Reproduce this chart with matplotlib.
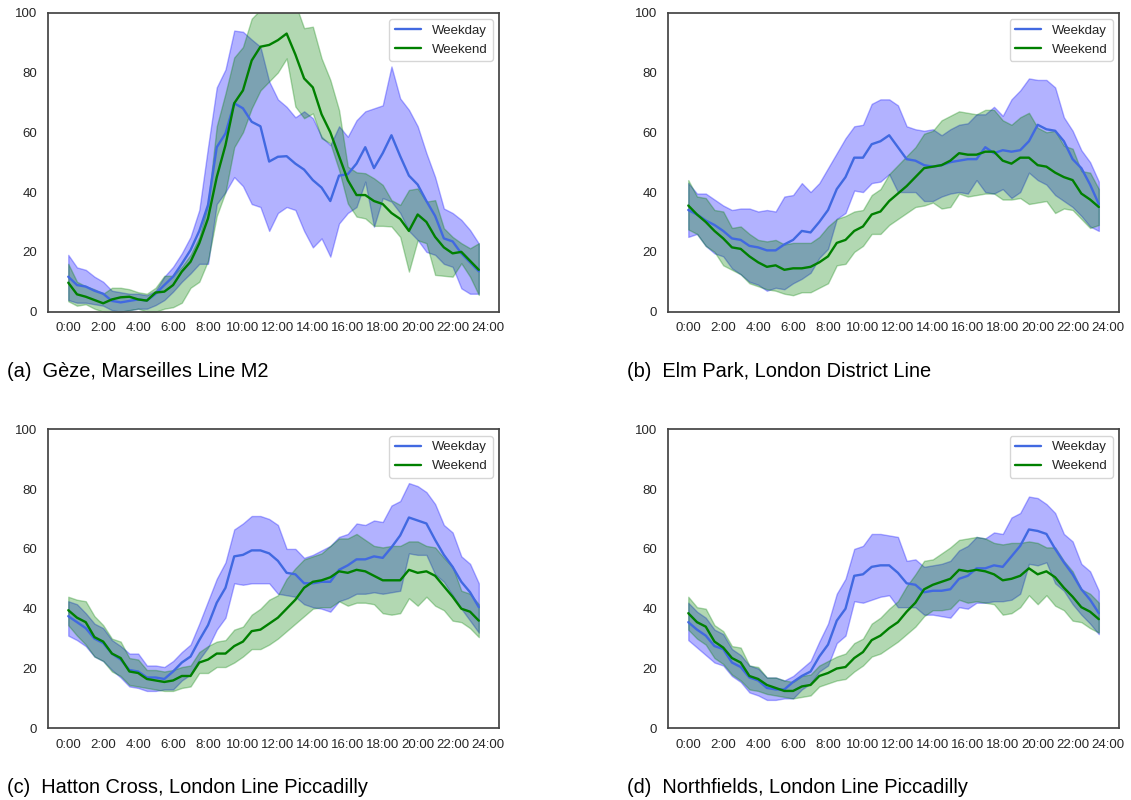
import matplotlib
matplotlib.use("Agg")
import matplotlib.pyplot as plt
import seaborn as sns
import numpy as np

sns.set_style("white")
plt.rcParams['font.family'] = ['Liberation Sans', 'DejaVu Sans']

# half-hour slots 0:00 .. 23:30
slots = np.arange(48)
tick_pos = list(range(0, 49, 4))
tick_labels = ["%d:00" % h for h in range(0, 25, 2)]
series_labels = ["Weekday", "Weekend"]

captions = [
    "(a)  Gèze, Marseilles Line M2",
    "(b)  Elm Park, London District Line",
    "(c)  Hatton Cross, London Line Piccadilly",
    "(d)  Northfields, London Line Piccadilly",
]

# (a) Geze
a_wd_mean = [11.7, 8.9, 8.4, 7, 6, 3.6, 3.1, 3.6, 4.1, 3.7, 6, 8.9, 11.7, 16, 20.6, 27, 35.7, 55, 59.6, 69.7, 68, 63.5, 62, 50.2,
             51.8, 52, 49.5, 47.5, 44, 41.5, 37, 45.5, 46, 49.5, 55, 48, 53, 59, 52, 45.5, 42.5, 37, 32, 24.5, 23.5, 19.5, 16.5, 13.5]
a_wd_hi = [19, 14.8, 14, 11.7, 10, 7, 6.5, 6, 6, 5.5, 7, 11.7, 15, 19.5, 25, 34, 55, 75, 81, 94, 93.6, 91, 88.6, 77,
           71, 68.5, 65, 67, 64.7, 58.5, 55.7, 62, 58.5, 64, 67, 68, 69, 82, 71.3, 67.5, 62, 53, 45, 34.5, 33, 30.7, 27.3, 22.8]
a_wd_lo = [3.9, 3, 3, 2.5, 2, 0.5, 0, 0.5, 1, 1, 2.2, 3.9, 6.7, 10, 12.8, 16, 16, 36, 40, 45, 42, 36, 35, 27,
           33, 35, 34, 27, 21.5, 24.5, 18.4, 29.5, 33, 35, 43.5, 28.4, 38, 36.8, 33, 27, 24, 20, 19, 16, 15, 7.8, 6, 6]
a_we_mean = [9.7, 5.8, 5, 3.9, 2.8, 4.1, 4.8, 5, 4.1, 3.7, 6.4, 6.7, 8.9, 13.4, 16.7, 22.9, 31.2, 45, 55.7, 69.7, 74, 84, 88.6, 89.2,
             90.8, 93, 86, 78, 75, 66, 60, 52, 44, 39, 39, 37, 36, 33, 31, 27, 32.5, 30, 25, 21.5, 19.5, 20, 17, 14]
a_we_hi = [16, 10, 8.5, 7.5, 6, 8, 8, 7.5, 6.5, 6, 8, 12, 12, 15, 19, 25, 36, 62, 73, 85, 88.5, 98, 101, 103,
           103, 103, 103, 94.8, 95.3, 84.7, 77.5, 67.4, 48.5, 46.6, 46.3, 44.6, 42.4, 37.3, 35.7, 40.7, 41.2, 36.8, 37.3, 27.9, 25, 22.9, 21.2, 22.9]
a_we_lo = [3.5, 2, 2.5, 1, 0, -0.5, 0, 0.5, 1, 0, 0, 1, 1.5, 3, 8, 10, 17, 32, 40, 55, 60, 68, 74, 77,
           80, 84.7, 68.6, 64.7, 66.3, 58, 56.3, 47.4, 36.2, 31.8, 31.2, 28.7, 28.7, 28.5, 25, 13.4, 23.9, 22.9, 12.3, 12, 11.7, 16.2, 11.7, 5.6]

# (b) Elm Park
b_wd_mean = [34, 32.5, 30.5, 29, 27, 24.5, 24, 22, 21.5, 20.5, 20.5, 22.5, 24, 27, 26.5, 30, 34, 41, 45, 51.5, 51.5, 56, 57, 59,
             55, 51, 50.5, 49, 48.5, 49, 50, 50.5, 51, 51, 55, 53, 54, 53.5, 54, 57, 62.5, 61, 60.5, 57, 51, 48, 42.5, 36]
b_wd_hi = [43, 39.5, 39.5, 37.5, 35.5, 34, 34.5, 34.5, 33.5, 34, 33.5, 38.5, 39, 43, 40, 43, 48, 53, 58, 62, 62.5, 69.5, 71, 71,
           69, 62, 61, 60.5, 61, 59, 61, 62.5, 63, 66, 66, 68.5, 65.5, 71, 74, 78, 77.5, 77.5, 75, 65, 60.5, 54, 50, 43.5]
b_wd_lo = [25, 26, 22, 19.5, 18.5, 14.5, 12.5, 10, 9, 7, 8, 7.5, 9.5, 11, 13, 18, 21, 31, 33, 40.5, 40, 43, 43.5, 46,
           40, 40, 40, 37, 37, 38.5, 39.5, 40, 39.5, 44, 40, 39.5, 41, 38, 40, 46.5, 44, 42.5, 39, 37, 35, 32, 28.5, 27]
b_we_mean = [35.5, 32.5, 30, 27, 24.5, 21.5, 21, 18.5, 16.5, 15, 15.5, 14, 14.5, 14.5, 15, 16.5, 18.5, 23, 24, 27, 28.5, 32.5, 33.5, 37,
             39.5, 42, 45, 48, 48.5, 49, 50.5, 53, 52.5, 52.5, 53.5, 53.5, 50.5, 49.5, 51.5, 51.5, 49, 48.5, 46.5, 45, 44, 39.5, 37.5, 35]
b_we_hi = [44, 38.5, 38, 34, 33.5, 28, 28.5, 26, 24, 23.5, 24, 22.5, 23, 23, 23, 25, 28.5, 31, 32, 33.5, 34, 39, 41, 46,
           49, 52, 55, 59.5, 60.5, 64, 65.5, 67, 66.5, 66, 67.5, 67.5, 64, 62.5, 65, 66.5, 61.5, 60, 60.5, 55.5, 54.5, 47, 46.5, 41]
b_we_lo = [27.5, 26, 22, 20, 15.5, 14, 12.5, 9.5, 8.5, 7.5, 7, 6, 5.5, 6.5, 6.5, 8, 9.5, 15.5, 16, 20, 22, 26, 26, 29,
           31, 33, 35, 35.5, 36.5, 34.5, 35, 39.5, 38.5, 39, 39.5, 39.5, 37.5, 37.5, 38, 36, 36.5, 37, 33, 34.5, 34, 31, 28, 29]

# (c) Hatton Cross
c_wd_mean = [37.5, 35.5, 33.5, 30, 28.5, 25, 23, 19.5, 19, 17, 17, 16.5, 19, 22, 24, 29.5, 34.5, 42, 47, 57.5, 58, 59.5, 59.5, 58.5,
             56, 52, 51.5, 48.5, 48.5, 49, 49, 53, 54.5, 56.5, 56.5, 57.5, 57, 60.5, 64.5, 70.5, 69.5, 68.5, 63, 58, 54, 49, 45.5, 40.5]
c_wd_hi = [42.5, 41.5, 38.5, 35, 33.5, 29.5, 27.5, 25, 25, 21, 21, 20.5, 22.5, 25.5, 28, 35, 42.5, 50, 55.5, 66.5, 68.5, 71, 71, 70,
           68, 60, 60, 57, 58, 59.5, 61, 64, 65, 68.5, 68, 69.5, 69, 74.5, 76, 82, 81, 79, 75, 68, 65.5, 57.5, 55, 48.5]
c_wd_lo = [31, 29.5, 27.5, 24, 22.5, 19.5, 17, 14, 13.5, 12.5, 12.5, 13, 13, 16, 18, 23, 27, 33, 37, 48.5, 48, 48.5, 48.5, 48.5,
           45, 44.5, 44, 41.5, 40.5, 40, 39, 42.5, 43.5, 45, 45, 45.5, 45, 45.5, 46, 58.5, 58, 58, 51.5, 49, 44.5, 40, 36, 32]
c_we_mean = [39.5, 37, 35.5, 30.5, 29, 25, 23.5, 19, 18.5, 16.5, 16, 15.5, 16, 17.5, 17.5, 22, 23, 25, 25, 27.5, 29, 32.5, 33, 35,
             37, 40, 43, 47, 49, 49.5, 50.5, 52.5, 52, 53, 52.5, 51, 49.5, 49.5, 49.5, 53, 52, 52.5, 51, 47.5, 44, 40, 39, 36]
c_we_hi = [44, 43, 42.5, 37.5, 34.5, 30, 29, 23.5, 23, 19.5, 19.5, 19, 19.5, 20.5, 21, 25.5, 27.5, 29, 29.5, 33, 34, 38, 40, 43,
           44.5, 50, 53.5, 56.5, 57.5, 58.5, 61, 63.5, 63.5, 65, 63, 61, 60.5, 61, 61, 62.5, 62.5, 61, 60.5, 57, 54, 46, 45, 41.5]
c_we_lo = [34.5, 31, 28, 24, 22.5, 19, 17.5, 14.5, 14, 13.5, 13, 12.5, 12.5, 13.5, 14, 18.5, 18.5, 20.5, 20.5, 22, 24, 26.5, 26.5, 28,
           30, 32.5, 35, 37.5, 40, 40.5, 40.5, 42.5, 41, 42, 42, 41.5, 38.5, 38, 38.5, 43.5, 41, 44, 41, 39.5, 36, 35.5, 33.5, 30.5]

# (d) Northfields
d_wd_mean = [35.5, 33, 31, 27.5, 26.5, 22, 20.5, 17, 16, 13.5, 13, 13, 15.5, 17.5, 19, 24, 28, 36, 40, 51, 51.5, 54, 54.5, 54.5,
             52, 48.5, 48, 45.5, 46, 46, 46.5, 50, 51, 53.5, 53.5, 54.5, 54, 57.5, 61, 66.5, 66, 65, 60, 55.5, 51.5, 46.5, 43, 38.5]
d_wd_hi = [42, 39, 37, 33, 31.5, 26.5, 24.5, 21, 20, 17, 17, 16, 17.5, 20, 22.5, 29, 35, 45, 50, 60, 61, 65, 65, 64.5,
           64, 56, 56.5, 54, 54.5, 55, 56, 59.5, 61, 64, 63.5, 65.5, 65, 70.5, 72, 77.5, 77, 75, 72, 65, 62.5, 55, 52.5, 46]
d_wd_lo = [29.5, 27, 24.5, 22, 21, 17.5, 15.5, 12, 11, 9.5, 9.5, 10, 10, 13, 15, 19, 21, 28.5, 31, 42.5, 42, 43, 44, 44.5,
           40.5, 40.5, 40.5, 38, 38, 37.5, 37, 40.5, 40, 42, 42, 42.5, 42.5, 43, 45, 55, 54.5, 55.5, 48.5, 46, 41.5, 38, 35, 31.5]
d_we_mean = [38.5, 35.5, 34, 29, 27, 23.5, 22, 17.5, 16.5, 14.5, 13.5, 12.5, 12.5, 14, 14.5, 17.5, 18.5, 20, 20.5, 23.5, 25.5, 29.5, 31, 33.5,
             35.5, 39, 42, 46.5, 48, 49, 50, 53, 52.5, 53, 52.5, 51.5, 49.5, 50, 51, 53.5, 51.5, 52.5, 50.5, 47, 44, 40.5, 39, 36.5]
d_we_hi = [44, 40.5, 40, 34.5, 32.5, 27.5, 27, 21, 20.5, 17, 17, 16, 15.5, 17.5, 18, 21, 22.5, 24, 25, 28.5, 30, 35, 37, 40,
           42.5, 47.5, 51.5, 56, 56.5, 58.5, 60.5, 63, 63.5, 64, 63.5, 62, 61.5, 62, 62, 62.5, 62, 60.5, 60.5, 56, 52.5, 46.5, 45, 42]
d_we_lo = [33, 30, 28, 23.5, 21.5, 18, 16, 13, 12.5, 11.5, 11, 10.5, 10, 10.5, 11, 14, 15, 16, 16.5, 19, 21, 24, 25, 27,
           29, 31.5, 34, 37.5, 39.5, 39.5, 40, 43, 42, 42.5, 42, 41.5, 38, 38.5, 40.5, 44.5, 41.5, 44.5, 41, 39.5, 36, 35.5, 33.5, 32]

panels = [
    (a_wd_mean, a_wd_lo, a_wd_hi, a_we_mean, a_we_lo, a_we_hi),
    (b_wd_mean, b_wd_lo, b_wd_hi, b_we_mean, b_we_lo, b_we_hi),
    (c_wd_mean, c_wd_lo, c_wd_hi, c_we_mean, c_we_lo, c_we_hi),
    (d_wd_mean, d_wd_lo, d_wd_hi, d_we_mean, d_we_lo, d_we_hi),
]

# axes boxes in figure coords, taken from the reference layout
boxes = [
    [0.0422, 0.6104, 0.3993, 0.3738],
    [0.5904, 0.6104, 0.3993, 0.3738],
    [0.0422, 0.0896, 0.3993, 0.3738],
    [0.5904, 0.0896, 0.3993, 0.3738],
]
cap_pos = [(0.0065, 0.536), (0.5545, 0.536), (0.0065, 0.016), (0.5545, 0.016)]

fig = plt.figure(figsize=(11.31, 8), dpi=100)

for k in range(4):
    wd, wd_lo, wd_hi, we, we_lo, we_hi = panels[k]
    ax = fig.add_axes(boxes[k])
    ax.fill_between(slots, wd_lo, wd_hi, color='blue', alpha=0.3)
    ax.fill_between(slots, we_lo, we_hi, color='green', alpha=0.3)
    ax.plot(slots, wd, color='royalblue', lw=1.7, label=series_labels[0])
    ax.plot(slots, we, color='green', lw=1.7, label=series_labels[1])
    ax.set_ylim(0, 100)
    ax.set_xlim(-2.35, 49.35)
    ax.set_xticks(tick_pos)
    ax.set_xticklabels(tick_labels)
    ax.set_yticks([0, 20, 40, 60, 80, 100])
    ax.tick_params(labelsize=9.5, pad=4)
    for s in ax.spines.values():
        s.set_linewidth(1.25)
        s.set_color('#444444')
    ax.legend(loc='upper right', fontsize=9.5, frameon=True)
    fig.text(cap_pos[k][0], cap_pos[k][1], captions[k], fontsize=14.4,
             va='center', ha='left', color='black')

fig.savefig("out.png", dpi=100)
